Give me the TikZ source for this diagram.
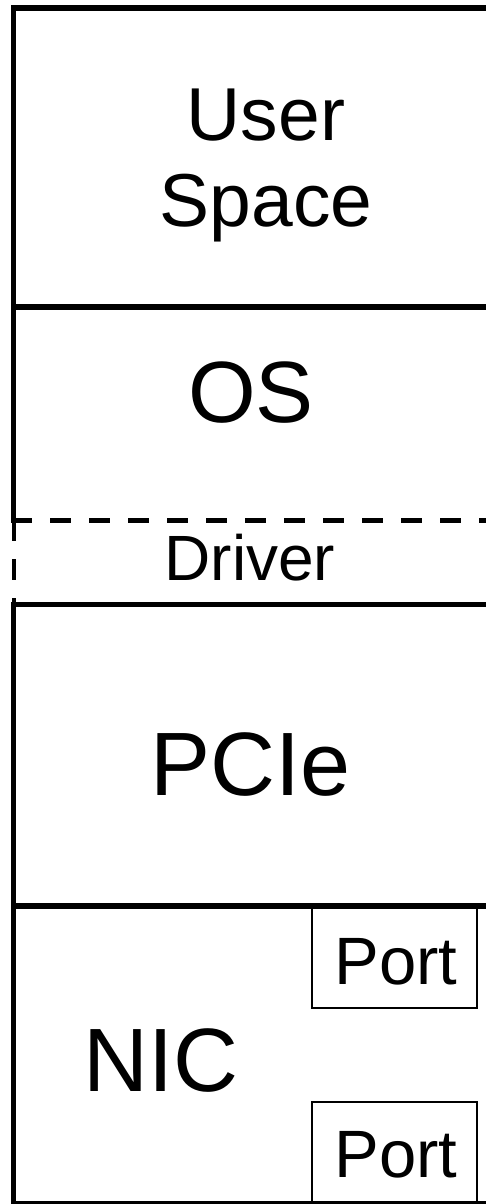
\documentclass[tikz,border=0pt]{standalone}
\usepackage{fontspec}
\setmainfont{Liberation Sans}
\begin{document}
\begin{tikzpicture}[x=1pt,y=-1pt,
  thickline/.style={line width=5.5pt},
  dashline/.style={line width=4.5pt,dash pattern=on 21pt off 18pt},
  portbox/.style={draw,line width=1.5pt},
  lbl/.style={inner sep=0pt,align=center}]
\useasboundingbox (0,0) rectangle (486,1204);
\clip (0,0) rectangle (486,1204);
% left border
\draw[thickline] (13.5,5.5) -- (13.5,520);
\draw[line width=4pt,dash pattern=on 21pt off 18pt] (14,520) -- (14,605);
\draw[thickline] (13.5,605) -- (13.5,1204);
% horizontal separators
\draw[thickline] (11,8) -- (490,8);
\draw[thickline] (11,307) -- (490,307);
\draw[dashline] (11,520.5) -- (490,520.5);
\draw[thickline] (11,604.5) -- (490,604.5);
\draw[thickline] (11,906) -- (490,906);
\draw[line width=2.5pt] (11,1202.5) -- (490,1202.5);
% ports
\draw[portbox] (312,906) rectangle (477,1008);
\draw[portbox] (312,1102) rectangle (477,1210);
% labels
\node[lbl,font=\fontsize{75}{86}\selectfont] (user) at (266,165) {User\\Space};
\node[lbl,font=\fontsize{87}{90}\selectfont] (os) at (251,393) {OS};
\node[lbl,font=\fontsize{64}{70}\selectfont] (drv) at (250,558) {Driver};
\node[lbl,font=\fontsize{90}{90}\selectfont] (pcie) at (251,765) {PCIe};
\node[lbl,font=\fontsize{90}{90}\selectfont] (nic) at (161,1061) {NIC};
\node[lbl,font=\fontsize{67}{70}\selectfont] (p1) at (396,962) {Port};
\node[lbl,font=\fontsize{67}{70}\selectfont] (p2) at (396,1155) {Port};
\end{tikzpicture}
\end{document}
